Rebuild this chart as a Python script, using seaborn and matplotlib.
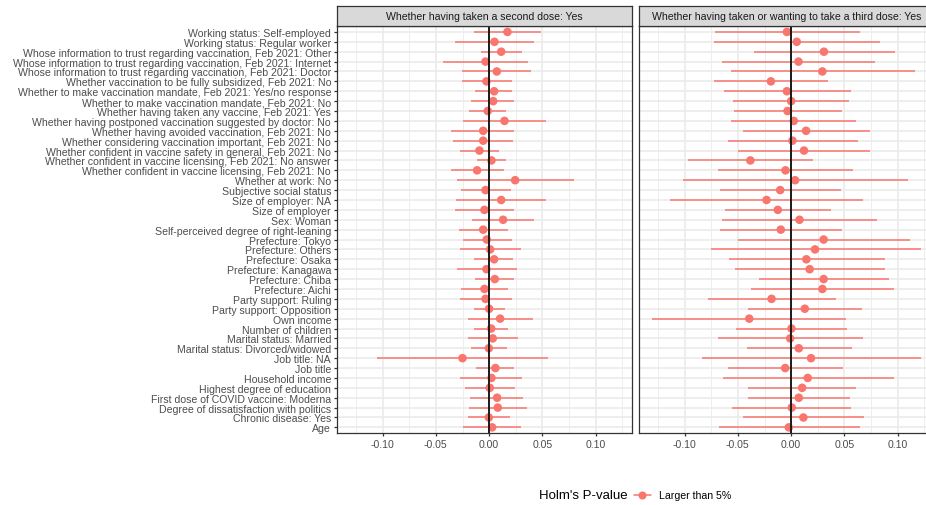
import matplotlib
matplotlib.use("Agg")
import matplotlib.pyplot as plt
import seaborn as sns
import numpy as np
import pandas as pd
from matplotlib.lines import Line2D

# ---------------- data (top row first) ----------------
labels = [
    "Working status: Self-employed",
    "Working status: Regular worker",
    "Whose information to trust regarding vaccination, Feb 2021: Other",
    "Whose information to trust regarding vaccination, Feb 2021: Internet",
    "Whose information to trust regarding vaccination, Feb 2021: Doctor",
    "Whether vaccination to be fully subsidized, Feb 2021: No",
    "Whether to make vaccination mandate, Feb 2021: Yes/no response",
    "Whether to make vaccination mandate, Feb 2021: No",
    "Whether having taken any vaccine, Feb 2021: Yes",
    "Whether having postponed vaccination suggested by doctor: No",
    "Whether having avoided vaccination, Feb 2021: No",
    "Whether considering vaccination important, Feb 2021: No",
    "Whether confident in vaccine safety in general, Feb 2021: No",
    "Whether confident in vaccine licensing, Feb 2021: No answer",
    "Whether confident in vaccine licensing, Feb 2021: No",
    "Whether at work: No",
    "Subjective social status",
    "Size of employer: NA",
    "Size of employer",
    "Sex: Woman",
    "Self-perceived degree of right-leaning",
    "Prefecture: Tokyo",
    "Prefecture: Others",
    "Prefecture: Osaka",
    "Prefecture: Kanagawa",
    "Prefecture: Chiba",
    "Prefecture: Aichi",
    "Party support: Ruling",
    "Party support: Opposition",
    "Own income",
    "Number of children",
    "Marital status: Married",
    "Marital status: Divorced/widowed",
    "Job title: NA",
    "Job title",
    "Household income",
    "Highest degree of education",
    "First dose of COVID vaccine: Moderna",
    "Degree of dissatisfaction with politics",
    "Chronic disease: Yes",
    "Age",
]

est_second = [0.0172, 0.0050, 0.0113, -0.0034, 0.0072, -0.0025, 0.0047, 0.0038, -0.0013, 0.0144,
              -0.0056, -0.0056, -0.0091, 0.0022, -0.0113, 0.0244, -0.0034, 0.0113, -0.0044, 0.0131,
              -0.0056, -0.0022, 0.0009, 0.0047, -0.0025, 0.0053, -0.0044, -0.0034, 0.0000, 0.0103,
              0.0019, 0.0034, -0.0003, -0.0250, 0.0059, 0.0022, 0.0006, 0.0075, 0.0081, -0.0003,
              0.0028]
lo_second = [-0.0141, -0.0322, -0.0078, -0.0432, -0.0253, -0.0256, -0.0131, -0.0166, -0.0188, -0.0244,
             -0.0356, -0.0335, -0.0272, -0.0113, -0.0360, -0.0303, -0.0266, -0.0310, -0.0316, -0.0159,
             -0.0285, -0.0247, -0.0272, -0.0141, -0.0300, -0.0134, -0.0263, -0.0269, -0.0144, -0.0203,
             -0.0138, -0.0203, -0.0169, -0.1051, -0.0119, -0.0269, -0.0231, -0.0175, -0.0188, -0.0203,
             -0.0244]
hi_second = [0.0488, 0.0422, 0.0306, 0.0369, 0.0394, 0.0213, 0.0216, 0.0235, 0.0163, 0.0535,
             0.0238, 0.0222, 0.0094, 0.0159, 0.0138, 0.0794, 0.0203, 0.0538, 0.0235, 0.0422,
             0.0178, 0.0213, 0.0297, 0.0225, 0.0260, 0.0235, 0.0178, 0.0213, 0.0147, 0.0416,
             0.0175, 0.0269, 0.0169, 0.0553, 0.0238, 0.0313, 0.0244, 0.0319, 0.0356, 0.0197,
             0.0297]

est_third = [-0.0040, 0.0053, 0.0308, 0.0069, 0.0293, -0.0190, -0.0040, 0.0000, -0.0034, 0.0025,
             0.0140, 0.0012, 0.0121, -0.0383, -0.0053, 0.0037, -0.0103, -0.0231, -0.0125, 0.0078,
             -0.0097, 0.0305, 0.0224, 0.0143, 0.0174, 0.0305, 0.0293, -0.0184, 0.0128, -0.0393,
             0.0003, -0.0009, 0.0072, 0.0187, -0.0056, 0.0156, 0.0103, 0.0072, 0.0006, 0.0115,
             -0.0022]
lo_third = [-0.0713, -0.0726, -0.0349, -0.0648, -0.0564, -0.0726, -0.0629, -0.0548, -0.0536, -0.0564,
            -0.0455, -0.0595, -0.0495, -0.0966, -0.0685, -0.1019, -0.0667, -0.1134, -0.0623, -0.0648,
            -0.0664, -0.0502, -0.0754, -0.0583, -0.0530, -0.0305, -0.0380, -0.0782, -0.0405, -0.1302,
            -0.0520, -0.0685, -0.0417, -0.0838, -0.0595, -0.0642, -0.0402, -0.0405, -0.0555, -0.0455,
            -0.0673]
hi_third = [0.0642, 0.0835, 0.0972, 0.0785, 0.1159, 0.0346, 0.0558, 0.0545, 0.0474, 0.0611,
            0.0738, 0.0623, 0.0741, 0.0209, 0.0583, 0.1093, 0.0470, 0.0673, 0.0374, 0.0807,
            0.0477, 0.1115, 0.1215, 0.0879, 0.0879, 0.0916, 0.0966, 0.0421, 0.0667, 0.0514,
            0.0523, 0.0673, 0.0567, 0.1215, 0.0483, 0.0963, 0.0607, 0.0551, 0.0564, 0.0688,
            0.0642]

panel_titles = ["Whether having taken a second dose: Yes",
                "Whether having taken or wanting to take a third dose: Yes"]
x_ticks = [-0.10, -0.05, 0.00, 0.05, 0.10]
x_tick_labels = ["-0.10", "-0.05", "0.00", "0.05", "0.10"]
x_minor = [-0.125, -0.075, -0.025, 0.025, 0.075, 0.125]
legend_title = "Holm's P-value"
legend_label = "Larger than 5%"

# ---------------- style ----------------
sns.set_theme(style="white")
plt.rcParams["font.family"] = ["Liberation Sans", "DejaVu Sans"]

RED = "#F8766D"
W, H = 926, 506
fig = plt.figure(figsize=(W / 100, H / 100), dpi=100)
fig.patch.set_facecolor("white")


def fx(px):
    return px / W


def fy(py):
    return 1 - py / H


n = len(labels)
positions = np.arange(n, 0, -1)  # top row highest

panel_left = [337, 639]
panel_w = 295
panel_top, panel_bot = 27.0, 434.3
strip_top = 6.7
AX_PT = 7.57

series = [(est_second, lo_second, hi_second), (est_third, lo_third, hi_third)]

for i, (left, (est, lo, hi)) in enumerate(zip(panel_left, series)):
    df = pd.DataFrame({"label": labels, "pos": positions, "est": est, "lo": lo, "hi": hi})
    ax = fig.add_axes([fx(left), fy(panel_bot), panel_w / W, (panel_bot - panel_top) / H])
    ax.set_facecolor("white")
    ax.set_xlim(-0.1428, 0.1341)
    ax.set_ylim(0.4, n + 0.6)
    ax.set_xticks(x_ticks)
    ax.set_xticklabels(x_tick_labels)
    ax.set_xticks(x_minor, minor=True)
    ax.set_yticks(positions)
    ax.grid(which="major", color="#EBEBEB", lw=1.2, zorder=0)
    ax.grid(which="minor", axis="x", color="#EBEBEB", lw=0.6, zorder=0)
    ax.set_axisbelow(True)

    ax.hlines(df["pos"], df["lo"], df["hi"], color=RED, lw=1.1, zorder=2)
    sns.scatterplot(data=df, x="est", y="pos", color=RED, s=38, edgecolor="none",
                    linewidth=0, ax=ax, zorder=3, legend=False)
    ax.axvline(0, color="#1A1A1A", lw=1.4, zorder=4)

    ax.set_xlabel("")
    ax.set_ylabel("")
    for sp in ax.spines.values():
        sp.set_color("#333333")
        sp.set_linewidth(0.9)
    ax.tick_params(axis="x", which="major", length=2.4, width=0.9, color="#333333",
                   pad=1.9, labelsize=AX_PT, labelcolor="#4D4D4D", bottom=True)
    ax.tick_params(axis="x", which="minor", length=0)
    if i == 0:
        ax.set_yticklabels(df["label"])
        ax.tick_params(axis="y", length=2.4, width=0.9, color="#333333", pad=1.9,
                       labelsize=AX_PT, labelcolor="#4D4D4D", left=True)
    else:
        ax.set_yticklabels([])
        ax.tick_params(axis="y", length=0)

    # facet strip
    sax = fig.add_axes([fx(left), fy(panel_top), panel_w / W, (panel_top - strip_top) / H])
    sax.set_facecolor("#D9D9D9")
    sax.set_xticks([])
    sax.set_yticks([])
    for sp in sax.spines.values():
        sp.set_color("#333333")
        sp.set_linewidth(0.9)
    sax.text(0.5, 0.5, panel_titles[i], ha="center", va="center", fontsize=AX_PT,
             color="#1A1A1A", transform=sax.transAxes)

# ---------------- legend ----------------
fig.text(fx(539), fy(496.5), legend_title, ha="left", va="center", fontsize=9.5, color="black")
handle = Line2D([0], [0], color=RED, lw=1.1, marker="o", markersize=5.8, markeredgewidth=0)
fig.legend([handle], [legend_label], loc="center left", bbox_to_anchor=(fx(634), fy(496.5)),
           frameon=False, fontsize=AX_PT, handlelength=1.6, handletextpad=0.8,
           borderpad=0, borderaxespad=0, labelcolor="black")

fig.savefig("out.png", dpi=100, facecolor="white")
